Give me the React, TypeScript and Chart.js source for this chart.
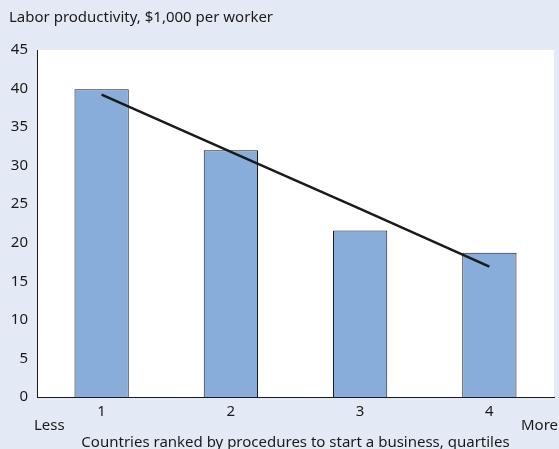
import React, { useEffect, useRef } from "react";
import { Chart, registerables } from "chart.js";

Chart.register(...registerables);

const categories = ["1", "2", "3", "4"];
const productivity = [39.9, 32.0, 21.6, 18.7];
const trend = [39.2, 31.8, 24.4, 16.9];
const yTicks = [0, 5, 10, 15, 20, 25, 30, 35, 40, 45];
const titleText = "Labor productivity, $1,000 per worker";
const xTitleText = "Countries ranked by procedures to start a business, quartiles";
const leftEndLabel = "Less";
const rightEndLabel = "More";

const FONT = "'Noto Sans', sans-serif";
const BG = "#e4eaf5";

export default function App() {
  const ref = useRef<HTMLCanvasElement | null>(null);

  useEffect(() => {
    document.body.style.margin = "0";
    const canvas = ref.current!;
    const bgPlugin = {
      id: "bg",
      beforeDraw(chart: any) {
        const { ctx, chartArea } = chart;
        ctx.save();
        ctx.fillStyle = BG;
        ctx.fillRect(0, 0, chart.width, chart.height);
        ctx.fillStyle = "#ffffff";
        ctx.fillRect(chartArea.left, chartArea.top, chartArea.right - chartArea.left, chartArea.bottom - chartArea.top);
        ctx.restore();
      },
      afterDraw(chart: any) {
        const { ctx, chartArea } = chart;
        ctx.save();
        ctx.fillStyle = "#1a1a1a";
        ctx.font = `15px ${FONT}`;
        ctx.textBaseline = "middle";
        ctx.textAlign = "left";
        ctx.fillText(titleText, 9, 18);
        ctx.fillText(leftEndLabel, 34, 426);
        ctx.textAlign = "right";
        ctx.fillText(rightEndLabel, 558, 426);
        ctx.textAlign = "center";
        ctx.fillText(xTitleText, (chartArea.left + chartArea.right) / 2, 443);
        ctx.restore();
      },
    };

    const chart = new Chart(canvas, {
      type: "bar",
      data: {
        labels: categories,
        datasets: [
          {
            type: "line",
            data: trend,
            borderColor: "#1a1a1a",
            borderWidth: 2.5,
            pointRadius: 0,
            fill: false,
            order: 0,
          } as any,
          {
            type: "bar",
            data: productivity,
            backgroundColor: "#88addb",
            borderColor: "#1a1a1a",
            borderWidth: 1,
            barPercentage: 0.42,
            categoryPercentage: 1,
            order: 1,
          },
        ],
      },
      options: {
        animation: false,
        responsive: false,
        layout: { padding: { top: 50, right: 5, left: 0, bottom: 0 } },
        plugins: { legend: { display: false }, tooltip: { enabled: false }, title: { display: false } },
        scales: {
          x: {
            offset: true,
            grid: { display: false, drawTicks: false },
            border: { display: true, color: "#1a1a1a", width: 1 },
            ticks: { color: "#1a1a1a", font: { family: FONT, size: 15 }, padding: 6 },
            afterFit(scale: any) {
              scale.height = 52;
            },
          },
          y: {
            min: 0,
            max: 45,
            afterBuildTicks(scale: any) {
              scale.ticks = yTicks.map((v) => ({ value: v }));
            },
            grid: { display: false, drawTicks: false },
            border: { display: true, color: "#1a1a1a", width: 1 },
            ticks: { color: "#1a1a1a", font: { family: FONT, size: 15 }, padding: 9 },
            afterFit(scale: any) {
              scale.width = 37;
            },
          },
        },
      },
      plugins: [bgPlugin],
    });
    return () => chart.destroy();
  }, []);

  return <canvas ref={ref} width={559} height={449} style={{ display: "block" }} />;
}
